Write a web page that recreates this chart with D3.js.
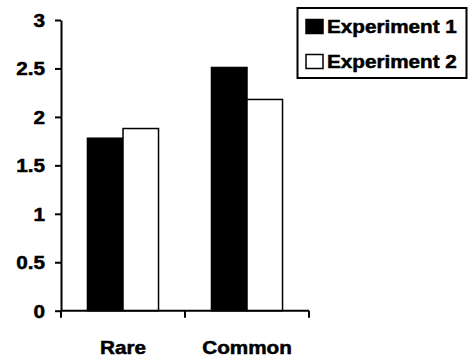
<!DOCTYPE html>
<html><head><meta charset="utf-8">
<script src="https://cdn.jsdelivr.net/npm/d3@7"></script>
<style>
html,body{margin:0;padding:0;background:#fff;}
svg{display:block;}
text{font-family:"Liberation Sans",Arial,sans-serif;font-weight:bold;font-size:18px;fill:#000;stroke:#000;stroke-width:0.5px;}
</style></head>
<body>
<svg id="chart" width="468" height="358"></svg>
<script>
const categories = ["Rare", "Common"];
const seriesNames = ["Experiment 1", "Experiment 2"];
const experiment1 = [1.78, 2.51];
const experiment2 = [1.88, 2.18];
const yTicks = [0, 0.5, 1, 1.5, 2, 2.5, 3];
const yTickLabels = ["0", "0.5", "1", "1.5", "2", "2.5", "3"];

const seriesValues = [experiment1, experiment2];
const fills = ["#000", "#fff"];
const SX = 1.15;

const svg = d3.select("#chart");
const x0 = 61, x1 = 309, yTop = 20, yBot = 310.7;

const x = d3.scaleBand().domain(categories).range([x0, x1]).paddingInner(0).paddingOuter(0);
const xs = d3.scaleBand().domain(seriesNames).range([0, x.bandwidth()]).paddingInner(0).paddingOuter(0.745);
const y = d3.scaleLinear().domain([0, 3]).range([yBot, yTop]);

// bars
const data = [];
categories.forEach((c, i) => seriesNames.forEach((s, j) => data.push({c, s, j, v: seriesValues[j][i]})));
svg.append("g").selectAll("rect").data(data).join("rect")
  .attr("x", d => x(d.c) + xs(d.s))
  .attr("y", d => y(d.v))
  .attr("width", xs.bandwidth())
  .attr("height", d => y(0) - y(d.v))
  .attr("fill", d => fills[d.j])
  .attr("stroke", "#000")
  .attr("stroke-width", 1.5);

// y axis
const yAxis = svg.append("g").attr("transform", `translate(${x0},0)`)
  .call(d3.axisLeft(y).tickValues(yTicks).tickFormat((d, i) => yTickLabels[i]).tickSize(6).tickSizeOuter(0));
yAxis.attr("font-size", null).attr("font-family", null);
yAxis.select(".domain").attr("stroke-width", 2);
yAxis.selectAll(".tick line").attr("stroke-width", 2);
yAxis.selectAll(".tick text")
  .attr("x", -16 / SX).attr("dy", "0.36em")
  .attr("transform", `scale(${SX},1)`)
  .attr("fill", "#000");

// x axis
const xg = svg.append("g");
xg.append("line").attr("x1", x0).attr("x2", x1).attr("y1", y(0)).attr("y2", y(0))
  .attr("stroke", "#000").attr("stroke-width", 2);
const bounds = [x(categories[0])].concat(categories.map(c => x(c) + x.bandwidth()));
xg.selectAll("line.tk").data(bounds).join("line").attr("class", "tk")
  .attr("x1", d => d).attr("x2", d => d).attr("y1", y(0)).attr("y2", y(0) + 7)
  .attr("stroke", "#000").attr("stroke-width", 2);
xg.selectAll("g.lab").data(categories).join("g").attr("class", "lab")
  .attr("transform", d => `translate(${x(d) + x.bandwidth() / 2},${y(0) + 43.5}) scale(${SX},1)`)
  .append("text").attr("text-anchor", "middle").text(d => d);

// legend
const lg = svg.append("g");
lg.append("rect").attr("x", 297.5).attr("y", 8).attr("width", 169).attr("height", 70)
  .attr("fill", "#fff").attr("stroke", "#000").attr("stroke-width", 2);
const items = lg.selectAll("g.it").data(seriesNames).join("g").attr("class", "it")
  .attr("transform", (d, i) => `translate(0,${i * 35})`);
items.append("rect").attr("x", 306).attr("y", 19.5).attr("width", 17).attr("height", 14)
  .attr("fill", (d, i) => fills[i]).attr("stroke", "#000").attr("stroke-width", 1.5);
items.append("g").attr("transform", `translate(327,33) scale(${SX},1)`)
  .append("text").text(d => d);
</script>
</body></html>
